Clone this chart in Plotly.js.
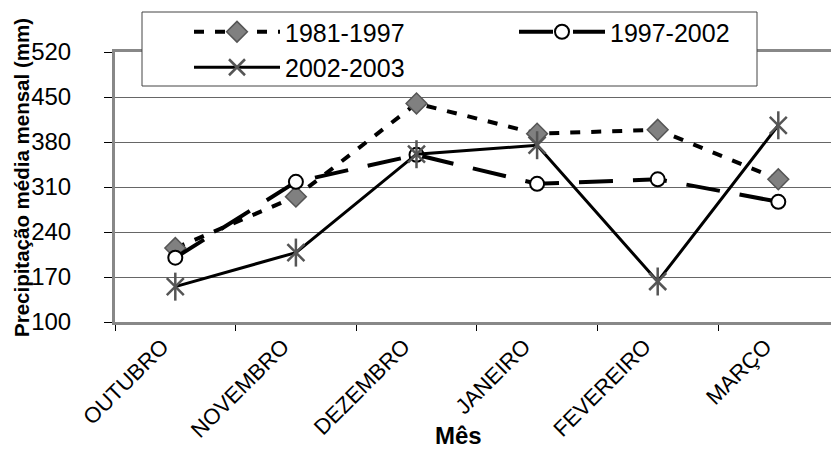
<!DOCTYPE html>
<html>
<head>
<meta charset="utf-8">
<script src="https://cdn.plot.ly/plotly-3.0.1.min.js"></script>
<style>html,body{margin:0;padding:0;background:#fff;}#chart{width:831px;height:450px;}</style>
</head>
<body>
<div id="chart"></div>
<script>
// ---- data ----
var months = ["OUTUBRO", "NOVEMBRO", "DEZEMBRO", "JANEIRO", "FEVEREIRO", "MARÇO"];
var s1981_1997 = [215, 295, 440, 393, 399, 322];
var s1997_2002 = [200, 318, 360, 315, 322, 287];
var s2002_2003 = [155, 208, 361, 375, 163, 406];
var seriesNames = ["1981-1997", "1997-2002", "2002-2003"];
var yTicks = [100, 170, 240, 310, 380, 450, 520];

// ---- layout helpers (pixel geometry) ----
var W = 831, H = 450, L = 115, T = 52, B = 322;
function px(x) { return (x - L) / (W - L); }
function py(y) { return (B - y) / (B - T); }
var F = "Liberation Sans, Arial, sans-serif";

var traces = [
  {
    x: months, y: s1981_1997, name: seriesNames[0], type: "scatter", mode: "lines+markers",
    line: {color: "#000", width: 4, dash: "10px,11px"},
    marker: {symbol: "diamond", size: 16, color: "#808080", line: {color: "#555", width: 1.5}},
    legend: "legend", legendgroup: "a"
  },
  {
    x: months, y: s1997_2002, name: seriesNames[1], type: "scatter", mode: "lines+markers",
    line: {color: "#000", width: 4, dash: "34px,20px"},
    marker: {symbol: "circle", size: 14, color: "#fff", line: {color: "#000", width: 2}},
    legend: "legend2"
  },
  {
    x: months, y: s2002_2003, name: seriesNames[2], type: "scatter", mode: "lines+markers",
    line: {color: "#000", width: 3},
    marker: {symbol: "x-thin-open", size: 17, color: "#555", line: {color: "#555", width: 2.5}},
    legend: "legend", legendgroup: "c"
  },
  {
    x: months, y: s2002_2003, name: seriesNames[2], type: "scatter", mode: "markers",
    marker: {symbol: "line-ns-open", size: 20, color: "#555", line: {color: "#555", width: 2.5}},
    showlegend: false, hoverinfo: "skip"
  }
];

var layout = {
  width: W, height: H,
  margin: {l: L, r: 0, t: T, b: H - B, pad: 0},
  paper_bgcolor: "#fff", plot_bgcolor: "#fff",
  font: {family: F, color: "#000"},
  xaxis: {
    type: "category",
    range: [-0.5, -0.5 + (W - L) / 120.6],
    tickson: "boundaries",
    ticks: "outside", ticklen: 6, tickwidth: 1, tickcolor: "#000",
    showgrid: false, zeroline: false,
    showline: true, linecolor: "#888", linewidth: 3, mirror: true,
    tickangle: -45, ticklabelshift: -13,
    tickfont: {family: F, size: 22, color: "#000"}
  },
  yaxis: {
    range: [100, 520],
    tickmode: "array", tickvals: yTicks, ticktext: yTicks.map(String),
    ticks: "outside", ticklen: 8, tickwidth: 1, tickcolor: "#000",
    ticklabelstandoff: 28,
    showgrid: true, gridcolor: "#666", gridwidth: 1,
    zeroline: false,
    showline: true, linecolor: "#888", linewidth: 3,
    tickfont: {family: F, size: 24, color: "#000"}
  },
  shapes: [
    {type: "rect", xref: "paper", yref: "paper", layer: "above",
     x0: px(142), x1: px(757), y0: py(86), y1: py(12),
     fillcolor: "#fff", line: {color: "#444", width: 1}}
  ],
  legend: {
    x: px(189), y: py(9), xanchor: "left", yanchor: "top",
    orientation: "v", bgcolor: "rgba(0,0,0,0)", borderwidth: 0,
    itemwidth: 86, traceorder: "grouped", tracegroupgap: 0,
    font: {family: F, size: 25, color: "#000"}
  },
  legend2: {
    x: px(514), y: py(9), xanchor: "left", yanchor: "top",
    orientation: "v", bgcolor: "rgba(0,0,0,0)", borderwidth: 0,
    itemwidth: 86,
    font: {family: F, size: 25, color: "#000"}
  },
  annotations: [
    {text: "<b>Precipitação média mensal (mm)</b>", xref: "paper", yref: "paper",
     x: px(21), y: py(178), textangle: -90, showarrow: false,
     xanchor: "center", yanchor: "middle",
     font: {family: F, size: 20.5, color: "#000"}},
    {text: "<b>Mês</b>", xref: "paper", yref: "paper",
     x: px(458), y: py(450), showarrow: false, borderpad: 0,
     xanchor: "center", yanchor: "bottom",
     font: {family: F, size: 24, color: "#000"}}
  ],
  showlegend: true
};

Plotly.newPlot("chart", traces, layout, {displayModeBar: false, staticPlot: true});
</script>
</body>
</html>
